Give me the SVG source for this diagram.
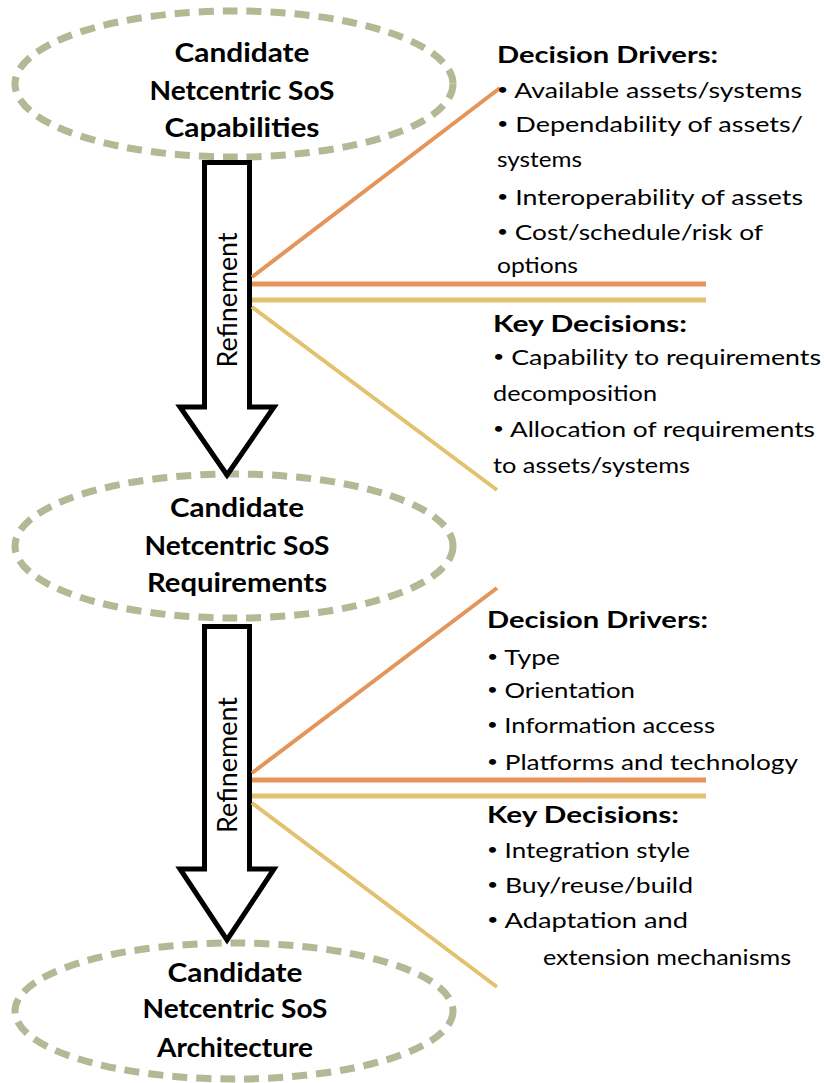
<svg xmlns="http://www.w3.org/2000/svg" width="824" height="1083" viewBox="0 0 824 1083">
<style>
.ell{fill:none;stroke:#b3b895;stroke-width:7;stroke-dasharray:15 9}
.title{font-family:Lato,"Liberation Sans",sans-serif;font-weight:bold;font-size:27px;fill:#000;text-anchor:middle}
.arrow{fill:#fff;stroke:#000;stroke-width:5;stroke-linejoin:miter}
.ref{font-family:Lato,"Liberation Sans",sans-serif;font-size:27px;fill:#000;text-anchor:middle}
.head{font-family:Lato,"Liberation Sans",sans-serif;font-weight:bold;font-size:23px;fill:#000}
.item{font-family:Lato,"Liberation Sans",sans-serif;font-size:22px;fill:#000}
.b{font-size:16px}
.or{stroke:#e59559;stroke-width:4;fill:none}
.ye{stroke:#e2c16f;stroke-width:4;fill:none}
.orh{stroke:#e59559;stroke-width:5;fill:none}
.yeh{stroke:#e2c16f;stroke-width:5;fill:none}
</style>
<g id="node-capabilities">
<ellipse class="ell" cx="234" cy="84" rx="219" ry="73"/>
<text class="title" x="242" y="62" textLength="135" lengthAdjust="spacingAndGlyphs">Candidate</text>
<text class="title" x="242" y="100" textLength="185" lengthAdjust="spacingAndGlyphs">Netcentric SoS</text>
<text class="title" x="242" y="137" textLength="155" lengthAdjust="spacingAndGlyphs">Capabilities</text>
</g>
<g id="node-requirements">
<ellipse class="ell" cx="234" cy="546" rx="219" ry="72"/>
<text class="title" x="237" y="517" textLength="134" lengthAdjust="spacingAndGlyphs">Candidate</text>
<text class="title" x="237" y="555" textLength="185" lengthAdjust="spacingAndGlyphs">Netcentric SoS</text>
<text class="title" x="237" y="592" textLength="180" lengthAdjust="spacingAndGlyphs">Requirements</text>
</g>
<g id="node-architecture">
<ellipse class="ell" cx="234" cy="1011" rx="219" ry="68"/>
<text class="title" x="235" y="982" textLength="135" lengthAdjust="spacingAndGlyphs">Candidate</text>
<text class="title" x="235" y="1018" textLength="185" lengthAdjust="spacingAndGlyphs">Netcentric SoS</text>
<text class="title" x="235" y="1057" textLength="156" lengthAdjust="spacingAndGlyphs">Architecture</text>
</g>
<g id="connectors">
<g id="arrow-1">
<polygon class="arrow" points="204.5,162.5 249.5,162.5 249.5,407 274,407 227,475 180,407 204.5,407"/>
<text class="ref" transform="translate(237,300) rotate(-90)" textLength="135" lengthAdjust="spacingAndGlyphs">Refinement</text>
</g>
<g id="arrow-2">
<polygon class="arrow" points="204.5,626.5 249.5,626.5 249.5,869 274,869 227,940 180,869 204.5,869"/>
<text class="ref" transform="translate(237,765) rotate(-90)" textLength="136" lengthAdjust="spacingAndGlyphs">Refinement</text>
</g>
<g id="lines-1">
<line class="or" x1="252" y1="277" x2="500" y2="88"/>
<line class="orh" x1="252" y1="284" x2="706" y2="284"/>
<line class="yeh" x1="252" y1="300" x2="706" y2="300"/>
<line class="ye" x1="252" y1="307" x2="497" y2="490"/>
</g>
<g id="lines-2">
<line class="or" x1="252" y1="773" x2="497" y2="588"/>
<line class="orh" x1="252" y1="780" x2="706" y2="780"/>
<line class="yeh" x1="252" y1="796" x2="706" y2="796"/>
<line class="ye" x1="252" y1="803" x2="497" y2="987"/>
</g>
</g>
<g id="notes-1">
<text class="head" x="497" y="63" textLength="221" lengthAdjust="spacingAndGlyphs">Decision Drivers:</text>
<text class="item" x="497" y="98" textLength="305" lengthAdjust="spacingAndGlyphs"><tspan class="b" dy="-3">•</tspan><tspan dy="3"> Available assets/systems</tspan></text>
<text class="item" x="497" y="132" textLength="306" lengthAdjust="spacingAndGlyphs"><tspan class="b" dy="-3">•</tspan><tspan dy="3"> Dependability of assets/</tspan></text>
<text class="item" x="497" y="167" textLength="85" lengthAdjust="spacingAndGlyphs">systems</text>
<text class="item" x="497" y="205" textLength="306" lengthAdjust="spacingAndGlyphs"><tspan class="b" dy="-3">•</tspan><tspan dy="3"> Interoperability of assets</tspan></text>
<text class="item" x="497" y="240" textLength="266" lengthAdjust="spacingAndGlyphs"><tspan class="b" dy="-3">•</tspan><tspan dy="3"> Cost/schedule/risk of</tspan></text>
<text class="item" x="497" y="273" textLength="81" lengthAdjust="spacingAndGlyphs">options</text>
<text class="head" x="493" y="332" textLength="194" lengthAdjust="spacingAndGlyphs">Key Decisions:</text>
<text class="item" x="493" y="365" textLength="328" lengthAdjust="spacingAndGlyphs"><tspan class="b" dy="-3">•</tspan><tspan dy="3"> Capability to requirements</tspan></text>
<text class="item" x="493" y="401" textLength="164" lengthAdjust="spacingAndGlyphs">decomposition</text>
<text class="item" x="493" y="437" textLength="322" lengthAdjust="spacingAndGlyphs"><tspan class="b" dy="-3">•</tspan><tspan dy="3"> Allocation of requirements</tspan></text>
<text class="item" x="493" y="473" textLength="197" lengthAdjust="spacingAndGlyphs">to assets/systems</text>
</g>
<g id="notes-2">
<text class="head" x="487" y="628" textLength="221" lengthAdjust="spacingAndGlyphs">Decision Drivers:</text>
<text class="item" x="487" y="665" textLength="73" lengthAdjust="spacingAndGlyphs"><tspan class="b" dy="-3">•</tspan><tspan dy="3"> Type</tspan></text>
<text class="item" x="487" y="698" textLength="148" lengthAdjust="spacingAndGlyphs"><tspan class="b" dy="-3">•</tspan><tspan dy="3"> Orientation</tspan></text>
<text class="item" x="487" y="733" textLength="228" lengthAdjust="spacingAndGlyphs"><tspan class="b" dy="-3">•</tspan><tspan dy="3"> Information access</tspan></text>
<text class="item" x="487" y="770" textLength="311" lengthAdjust="spacingAndGlyphs"><tspan class="b" dy="-3">•</tspan><tspan dy="3"> Platforms and technology</tspan></text>
<text class="head" x="487" y="823" textLength="192" lengthAdjust="spacingAndGlyphs">Key Decisions:</text>
<text class="item" x="487" y="858" textLength="203" lengthAdjust="spacingAndGlyphs"><tspan class="b" dy="-3">•</tspan><tspan dy="3"> Integration style</tspan></text>
<text class="item" x="487" y="893" textLength="206" lengthAdjust="spacingAndGlyphs"><tspan class="b" dy="-3">•</tspan><tspan dy="3"> Buy/reuse/build</tspan></text>
<text class="item" x="487" y="928" textLength="201" lengthAdjust="spacingAndGlyphs"><tspan class="b" dy="-3">•</tspan><tspan dy="3"> Adaptation and</tspan></text>
<text class="item" x="543" y="965" textLength="248" lengthAdjust="spacingAndGlyphs">extension mechanisms</text>
</g>
</svg>
